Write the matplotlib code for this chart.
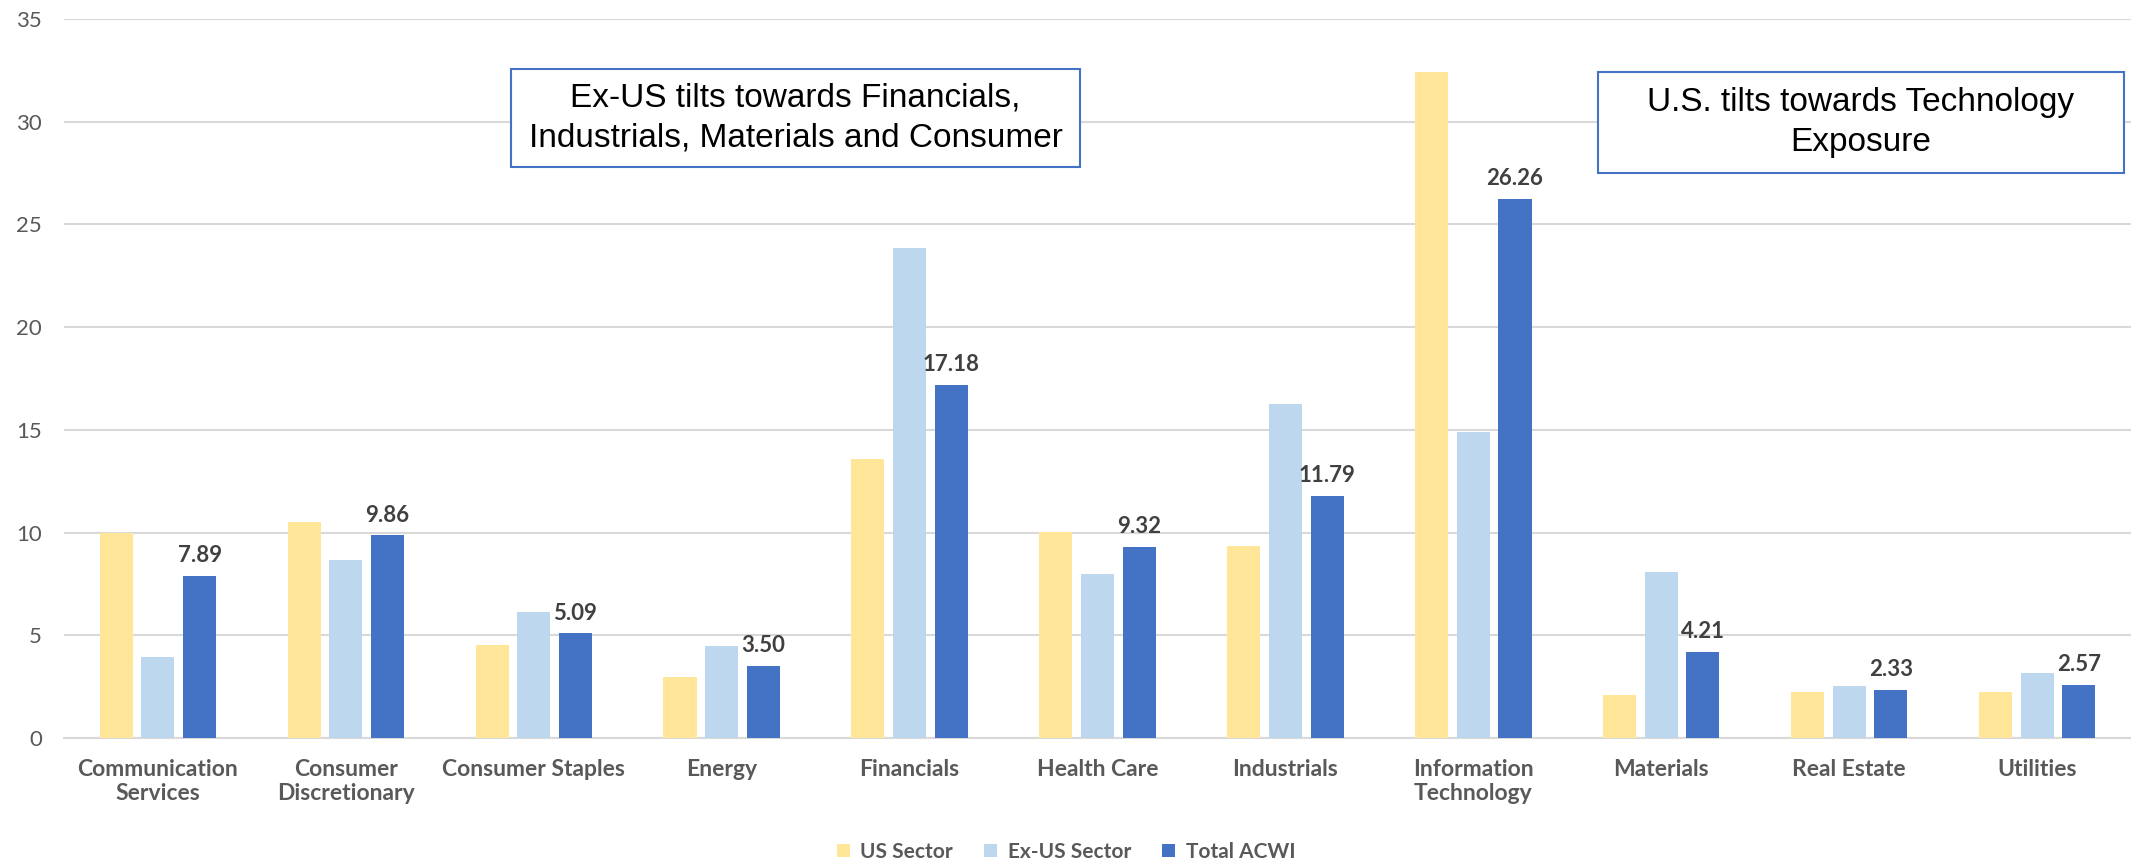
import numpy as np
import matplotlib.pyplot as plt
from matplotlib.patches import Rectangle

# Sector weights (%)
categories = ['Communication\nServices', 'Consumer\nDiscretionary', 'Consumer Staples', 'Energy',
              'Financials', 'Health Care', 'Industrials', 'Information\nTechnology',
              'Materials', 'Real Estate', 'Utilities']
us_sector = [10.0, 10.52, 4.53, 2.97, 13.57, 10.04, 9.36, 32.42, 2.11, 2.22, 2.22]
exus_sector = [3.96, 8.67, 6.13, 4.48, 23.87, 7.98, 16.28, 14.88, 8.07, 2.52, 3.18]
total_acwi = [7.89, 9.86, 5.09, 3.50, 17.18, 9.32, 11.79, 26.26, 4.21, 2.33, 2.57]
yticks = [0, 5, 10, 15, 20, 25, 30, 35]

note_left = 'Ex-US tilts towards Financials,\nIndustrials, Materials and Consumer'
note_right = 'U.S. tilts towards Technology\nExposure'

W, H = 2131, 863
fig = plt.figure(figsize=(W / 100, H / 100), dpi=100)
ax = fig.add_axes([64 / W, 1 - 738 / H, 1 - 64 / W, (738 - 19) / H])

font = ['Lato', 'DejaVu Sans']
x = np.arange(len(categories))
bw = 0.176
off = 0.222
ax.bar(x - off, us_sector, bw, color='#FFE699', label='US Sector', zorder=3)
ax.bar(x, exus_sector, bw, color='#BDD7EE', label='Ex-US Sector', zorder=3)
bars = ax.bar(x + off, total_acwi, bw, color='#4472C4', label='Total ACWI', zorder=3)

for b, v in zip(bars, total_acwi):
    ax.annotate(f'{v:.2f}', (b.get_x() + b.get_width() / 2, v), xytext=(0, 7),
                textcoords='offset points', ha='center', va='bottom',
                fontsize=16, fontweight='bold', color='#404040', family=font)

ax.set_xlim(-0.5, len(categories) - 0.5)
ax.set_ylim(0, 35)
ax.set_yticks(yticks)
ax.set_xticks(x)
ax.set_xticklabels(categories, fontsize=16.5, fontweight='bold', color='#595959',
                   family=font, linespacing=1.2)
for t in ax.get_yticklabels():
    t.set_family(font)
    t.set_fontsize(16)
    t.set_color('#595959')
ax.tick_params(axis='both', length=0)
ax.tick_params(axis='y', pad=16)
ax.tick_params(axis='x', pad=15)
ax.grid(axis='y', color='#D9D9D9', linewidth=1.5, zorder=0)
for s in ['top', 'right', 'left']:
    ax.spines[s].set_visible(False)
ax.spines['bottom'].set_color('#D9D9D9')
ax.spines['bottom'].set_linewidth(1.5)

# annotation boxes
def note(x0, y0, x1, y1, txt):
    fig.patches.append(Rectangle((x0 / W, 1 - y1 / H), (x1 - x0) / W, (y1 - y0) / H,
                                 transform=fig.transFigure, facecolor='white',
                                 edgecolor='#4472C4', linewidth=1.5, zorder=5))
    fig.text((x0 + x1) / 2 / W, 1 - (y0 + y1) / 2 / H, txt, ha='center', va='center',
             fontsize=24, family='Liberation Sans', color='black', zorder=6,
             linespacing=1.36)

note(511, 69, 1080, 167, note_left)
note(1598, 72, 2124, 173, note_right)

fig.legend(loc='center', bbox_to_anchor=(1066 / W, 1 - 852 / H), ncol=3, frameon=False,
           prop={'family': font, 'size': 15, 'weight': 'bold'}, labelcolor='#595959',
           handlelength=0.62, handleheight=0.62, handletextpad=0.5, columnspacing=1.5)

fig.savefig('out.png', dpi=100)
